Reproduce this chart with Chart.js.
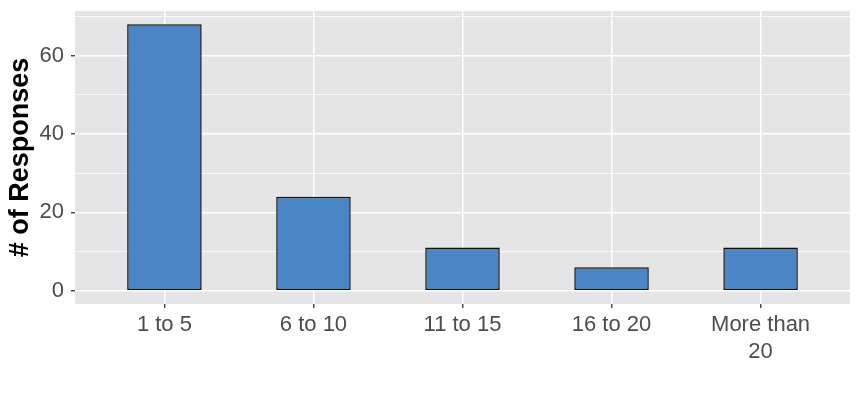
<!DOCTYPE html>
<html>
<head>
<meta charset="utf-8">
<script src="https://cdn.jsdelivr.net/npm/chart.js@4.4.1/dist/chart.umd.min.js"></script>
<style>
  html, body { margin: 0; padding: 0; background: #fff; }
  #wrap { width: 861px; height: 400px; }
</style>
</head>
<body>
<div id="wrap"><canvas id="barChart"></canvas></div>
<script>
const categories = ['1 to 5', '6 to 10', '11 to 15', '16 to 20', 'More than 20'];
const tickLabels = [['1 to 5'], ['6 to 10'], ['11 to 15'], ['16 to 20'], ['More than', '20']];
const responses = [68, 24, 11, 6, 11];
const yTicks = [0, 10, 20, 30, 40, 50, 60, 70];

// grey panel behind the grid, ggplot style
const panelBg = {
    id: 'panelBg',
    beforeDraw(chart) {
        const { ctx, chartArea: a } = chart;
        ctx.save();
        ctx.fillStyle = '#ffffff';
        ctx.fillRect(0, 0, chart.width, chart.height);
        ctx.fillStyle = '#E5E5E5';
        ctx.fillRect(a.left, a.top, a.right - a.left, a.bottom - a.top);
        ctx.restore();
    }
};

const isMajor = (v) => v % 20 === 0;

new Chart(document.getElementById('barChart'), {
    type: 'bar',
    data: {
        datasets: [{
            label: '# of Responses',
            data: responses.map((v, i) => ({ x: i, y: v })),
            backgroundColor: '#4A86C5',
            borderColor: '#111111',
            borderWidth: 1.5,
            borderSkipped: false,
            barPercentage: 0.5,
            categoryPercentage: 1
        }]
    },
    options: {
        responsive: true,
        maintainAspectRatio: false,
        animation: false,
        layout: { padding: { top: 11, right: 11, left: 0, bottom: 0 } },
        plugins: {
            legend: { display: false },
            tooltip: { enabled: false }
        },
        scales: {
            x: {
                type: 'linear',
                offset: false,
                min: -0.6,
                max: categories.length - 1 + 0.6,
                afterBuildTicks: (s) => { s.ticks = categories.map((c, i) => ({ value: i })); },
                afterFit: (s) => { s.height = 96; s.paddingLeft = 0; s.paddingRight = 0; },
                border: { display: false },
                grid: {
                    offset: false,
                    color: '#ffffff',
                    lineWidth: 1.5,
                    drawTicks: true,
                    tickLength: 4,
                    tickColor: '#333333',
                    tickWidth: 1.3
                },
                ticks: {
                    autoSkip: false,
                    maxRotation: 0,
                    padding: 4,
                    color: '#4D4D4D',
                    font: { family: 'Liberation Sans', size: 22, lineHeight: 1.2 },
                    callback: (v) => tickLabels[v]
                }
            },
            y: {
                min: -3.4,
                max: 71.4,
                afterBuildTicks: (s) => { s.ticks = yTicks.map(v => ({ value: v })); },
                afterFit: (s) => { s.width = 75; s.paddingTop = 0; s.paddingBottom = 0; },
                border: { display: false },
                grid: {
                    color: '#ffffff',
                    lineWidth: (c) => isMajor(c.tick.value) ? 1.5 : 0.75,
                    drawTicks: true,
                    tickLength: 4,
                    tickColor: (c) => isMajor(c.tick.value) ? '#333333' : 'rgba(0,0,0,0)',
                    tickWidth: 1.3
                },
                ticks: {
                    padding: 7,
                    color: '#4D4D4D',
                    font: { family: 'Liberation Sans', size: 22 },
                    callback: (v) => isMajor(v) ? v : ''
                },
                title: {
                    display: true,
                    text: '# of Responses',
                    color: '#000000',
                    padding: { top: 4, bottom: 0 },
                    font: { family: 'Liberation Sans', size: 27, weight: 'bold' }
                }
            }
        }
    },
    plugins: [panelBg]
});
</script>
</body>
</html>
